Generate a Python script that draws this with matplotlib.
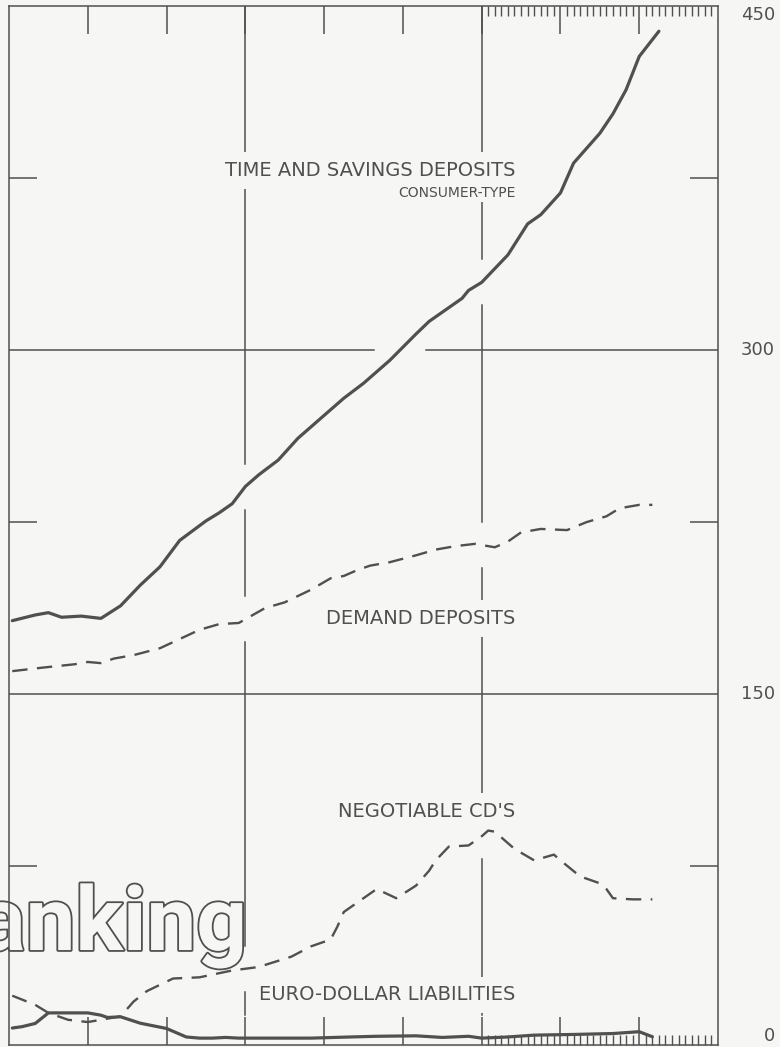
import numpy as np
import matplotlib
matplotlib.use('Agg')
import matplotlib.pyplot as plt
import matplotlib.patheffects as pe
from matplotlib.ticker import NullLocator

# x values are months since January 1969, values in billions of dollars
tsd_m = [0.5, 4, 6, 8, 11, 14, 17, 20, 23, 26, 30, 32, 34, 36, 38, 41, 44, 48, 51, 54,
         58, 62, 64, 66, 69, 70, 72, 76, 79, 81, 84, 86, 90, 92, 94, 96, 99]
tsd_v = [182, 184.5, 185.5, 183.5, 184, 183, 188.5, 197.5, 205.5, 217, 225.5, 229, 233,
         240.5, 245.5, 252, 261.5, 271.5, 279, 285.5, 295.5, 307, 312.5, 316.5, 322.5,
         326, 329.5, 341.5, 355, 359, 368.5, 381.5, 394.5, 403, 413.5, 428, 439]

dd_m = [0.5, 5, 10, 12, 14, 16, 19, 23, 29, 32, 35, 39, 42, 46, 49, 51, 53, 55, 58, 62,
        65, 68, 71, 72, 74, 76, 78, 81, 85, 88, 91, 93, 96, 98]
dd_v = [160, 161.5, 163, 164, 163.5, 165.5, 167, 170, 178, 180.5, 181, 187.5, 190, 195.5,
        200.5, 201.5, 204, 206, 207.5, 210.5, 213, 214.5, 215.5, 215, 214, 216.5, 220.5,
        222, 221.5, 225, 227.5, 231, 232.5, 232.5]

cd_m = [0.5, 4, 6, 9, 12, 15, 17, 19, 21, 25, 29, 34, 38, 43, 46, 49, 50, 51, 54, 56, 59,
        62, 64, 65, 67, 70, 72, 73, 74, 77, 80, 83, 84, 87, 90, 91, 92, 95, 98]
cd_v = [18.5, 14.5, 11, 8, 7, 8.5, 9.5, 16, 20.5, 26, 26.5, 29.5, 31, 35.5, 40, 43, 48.5,
        55, 61, 65, 61, 66.5, 73, 77.5, 83.5, 84, 88, 90.5, 90, 82.5, 77.5, 80, 77.5, 70.5,
        67.5, 65, 61, 60.5, 60.5]

eu_m = [0.5, 2, 4, 6, 9, 12, 14, 15, 17, 20, 24, 27, 29, 31, 33, 35, 40, 46, 52, 56, 62,
        66, 70, 72, 76, 80, 86, 92, 96, 98]
eu_v = [4.4, 5.0, 6.4, 11, 11, 11, 10, 9, 9.3, 6.5, 4.2, 0.5, 0, 0, 0.3, 0, 0, 0, 0.5,
        0.8, 1.0, 0.3, 0.8, 0, 0.5, 1.3, 1.6, 2.0, 2.8, 0.6]

right_labels = [450, 300, 150, 0]

BG = '#f6f6f4'
INK = '#505050'
DASH = (0, (6.5, 4))

fig = plt.figure(figsize=(7.8, 10.47), dpi=100, facecolor=BG)
ax = fig.add_axes([9 / 780, 2 / 1047, 709 / 780, 1039 / 1047])
ax.set_facecolor(BG)
ax.set_xlim(0, 108)
ax.set_ylim(-3, 450)
ax.set_axisbelow(False)

series = [(tsd_m, tsd_v, '-'), (dd_m, dd_v, DASH), (cd_m, cd_v, DASH), (eu_m, eu_v, '-')]
for m, v, ls in series:
    ax.plot(m, v, color=INK, lw=2.3 if ls == '-' else 1.7, ls=ls, zorder=3,
            solid_capstyle='round', solid_joinstyle='round')

# grid lines are broken where a curve crosses them
gap_y = 23 * 453 / 1039
gap_x = 26 * 108 / 709


def crossings(m, v, level):
    m = np.asarray(m, float)
    v = np.asarray(v, float)
    d = v - level
    idx = np.where(np.sign(d[:-1]) != np.sign(d[1:]))[0]
    return [m[i] + (level - v[i]) * (m[i + 1] - m[i]) / (v[i + 1] - v[i]) for i in idx]


def keep(lo, hi, cuts, gap):
    segs = [(lo, hi)]
    for c in cuts:
        new = []
        for a, b in segs:
            if c + gap <= a or c - gap >= b:
                new.append((a, b))
                continue
            if c - gap > a:
                new.append((a, c - gap))
            if c + gap < b:
                new.append((c + gap, b))
        segs = new
    return segs


for xm in [36, 72]:
    cuts = [np.interp(xm, m, v) for m, v, _ in series if m[0] <= xm <= m[-1]]
    for a, b in keep(-3, 450, cuts, gap_y):
        ax.plot([xm, xm], [a, b], color=INK, lw=1.1, zorder=1)

for yl in [150, 300]:
    cuts = []
    for m, v, _ in series:
        cuts += crossings(m, v, yl)
    for a, b in keep(0, 108, cuts, gap_x):
        ax.plot([a, b], [yl, yl], color=INK, lw=1.1, zorder=1)

# ticks
ax.set_xticks(range(12, 108, 12))
ax.set_xticks(range(73, 108), minor=True)
ax.set_yticks([75, 225, 375])
ax.yaxis.set_minor_locator(NullLocator())
ax.tick_params(which='major', direction='in', length=20, width=1.1, color=INK,
               top=True, right=True, labelbottom=False, labelleft=False)
ax.tick_params(axis='x', which='minor', direction='in', length=7, width=1.0, color=INK,
               top=True, bottom=True)
for s in ax.spines.values():
    s.set_color(INK)
    s.set_linewidth(1.1)

# series labels
box = dict(boxstyle='square,pad=0.45', fc=BG, ec='none')
lab = dict(color=INK, fontsize=14, ha='right', va='center', zorder=2, bbox=box)
ax.text(77.1, 378.3, 'TIME AND SAVINGS DEPOSITS', **lab)
ax.text(77.1, 368.4, 'CONSUMER-TYPE', color=INK, fontsize=10, ha='right', va='center',
        zorder=2.1, bbox=dict(boxstyle='square,pad=0.15', fc=BG, ec='none'))
ax.text(77.1, 182.9, 'DEMAND DEPOSITS', **lab)
ax.text(77.1, 99.0, "NEGOTIABLE CD'S", **lab)
ax.text(77.1, 18.8, 'EURO-DOLLAR LIABILITIES', **lab)

# right-hand scale
tr = ax.get_yaxis_transform()
xlab = (775 - 9) / 709
for val in right_labels:
    va = 'top' if val == 450 else ('bottom' if val == 0 else 'center')
    ax.text(xlab, -3 if val == 0 else val, str(val), transform=tr, ha='right', va=va,
            fontsize=13, color=INK, clip_on=False)

# title lettering cut off at the left edge
ax.text(36.25, 38.4, 'anking', fontfamily='Roboto', fontweight='bold', fontsize=64,
        ha='right', va='baseline', color=BG, zorder=2.4,
        path_effects=[pe.withStroke(linewidth=2.6, foreground=INK)])

fig.savefig('out.png', dpi=100, facecolor=BG)
